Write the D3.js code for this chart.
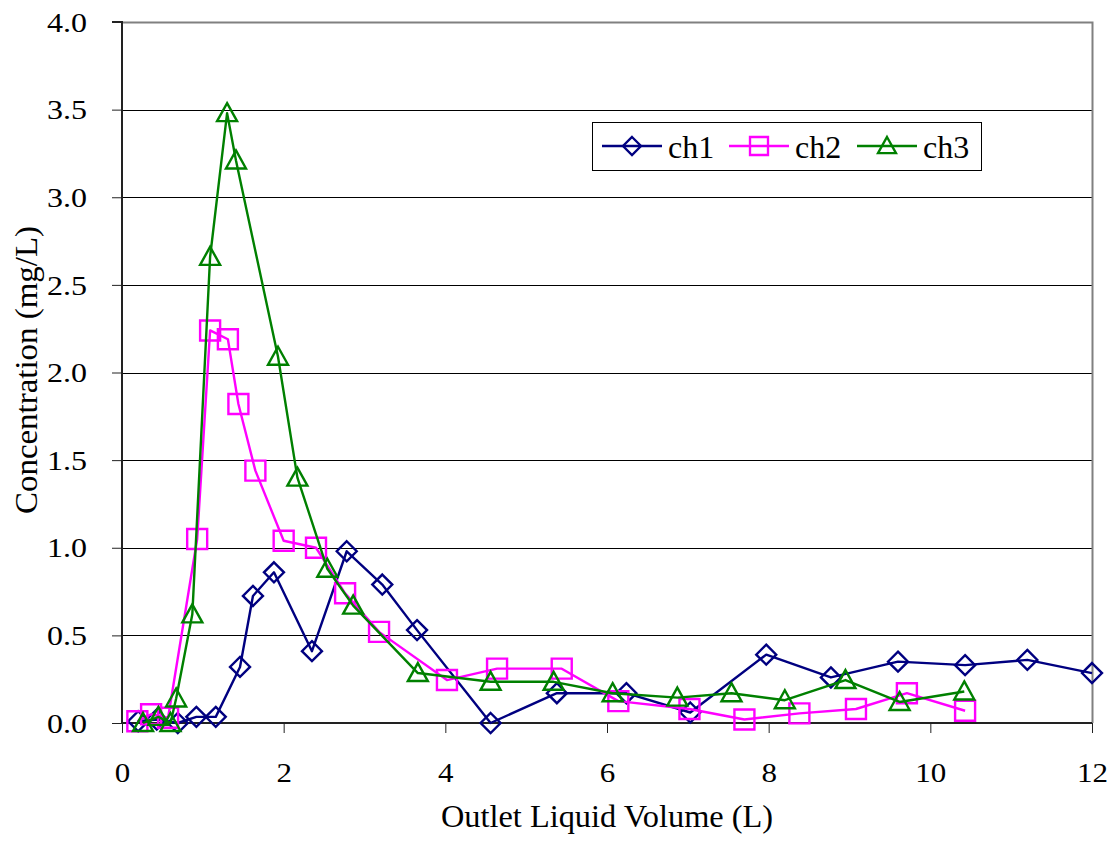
<!DOCTYPE html>
<html>
<head>
<meta charset="utf-8">
<script src="https://cdn.jsdelivr.net/npm/d3@7"></script>
<style>
  html, body { margin: 0; padding: 0; background: #fff; }
  svg { display: block; }
</style>
</head>
<body>
<svg id="chart" width="1114" height="848" font-family="Liberation Serif"></svg>
<script>
// Outlet volume (L) and concentration (mg/L) per channel
const ch1X = [0.2, 0.43, 0.69, 0.92, 1.16, 1.46, 1.62, 1.88, 2.35, 2.78, 3.22, 3.65, 4.56, 5.38, 6.24, 7.03, 7.97, 8.77, 9.6, 10.43, 11.2, 12.0];
const ch1Y = [0.01, 0.02, 0.0, 0.035, 0.035, 0.32, 0.725, 0.86, 0.41, 0.98, 0.79, 0.53, 0.0, 0.17, 0.17, 0.06, 0.39, 0.26, 0.35, 0.33, 0.36, 0.285];

const ch2X = [0.19, 0.36, 0.57, 0.93, 1.09, 1.31, 1.44, 1.65, 2.0, 2.4, 2.76, 3.18, 4.02, 4.64, 5.44, 6.14, 7.02, 7.7, 8.38, 9.08, 9.71, 10.43];
const ch2Y = [0.01, 0.05, 0.03, 1.05, 2.24, 2.19, 1.82, 1.44, 1.04, 1.0, 0.74, 0.52, 0.245, 0.31, 0.31, 0.125, 0.08, 0.02, 0.055, 0.08, 0.17, 0.07];

const ch3X = [0.26, 0.45, 0.6, 0.67, 0.87, 1.09, 1.3, 1.41, 1.93, 2.17, 2.54, 2.86, 3.66, 4.56, 5.34, 6.07, 6.87, 7.54, 8.2, 8.95, 9.62, 10.42];
const ch3Y = [0.0, 0.035, 0.0, 0.14, 0.62, 2.66, 3.48, 3.21, 2.09, 1.40, 0.88, 0.67, 0.285, 0.235, 0.235, 0.17, 0.145, 0.17, 0.13, 0.245, 0.12, 0.18];

const seriesNames = ["ch1", "ch2", "ch3"];
const xTicks = [0, 2, 4, 6, 8, 10, 12];
const yTicks = [0, 0.5, 1.0, 1.5, 2.0, 2.5, 3.0, 3.5, 4.0];
const xTitle = "Outlet Liquid Volume (L)";
const yTitle = "Concentration (mg/L)";

const FONT = "Liberation Serif";

const styles = [
  { color: "#000080", shape: "diamond" },
  { color: "#FF00FF", shape: "square" },
  { color: "#008000", shape: "triangle" }
];

const series = [
  { name: seriesNames[0], pts: ch1X.map((x, i) => [x, ch1Y[i]]), ...styles[0] },
  { name: seriesNames[1], pts: ch2X.map((x, i) => [x, ch2Y[i]]), ...styles[1] },
  { name: seriesNames[2], pts: ch3X.map((x, i) => [x, ch3Y[i]]), ...styles[2] }
];

const plot = { left: 122, right: 1092, top: 22, bottom: 723 };
const svg = d3.select("#chart");

const x = d3.scaleLinear().domain([0, 12]).range([plot.left, plot.right]);
const y = d3.scaleLinear().domain([0, 4]).range([plot.bottom, plot.top]);

// Horizontal gridlines
svg.append("g")
  .selectAll("line")
  .data(yTicks.filter(t => t > 0 && t < 4))
  .join("line")
  .attr("x1", plot.left).attr("x2", plot.right)
  .attr("y1", d => Math.round(y(d)) + 0.5).attr("y2", d => Math.round(y(d)) + 0.5)
  .attr("stroke", "#000").attr("stroke-width", 1);

// Plot frame: top and right edges
svg.append("path")
  .attr("d", `M${plot.left},${plot.top + 0.5}H${plot.right + 0.5}V${plot.bottom}`)
  .attr("fill", "none").attr("stroke", "#808080").attr("stroke-width", 2);

// Axes
const yAxis = d3.axisLeft(y).tickValues(yTicks).tickFormat(d3.format(".1f")).tickSize(10).tickPadding(25);
const xAxis = d3.axisBottom(x).tickValues(xTicks).tickFormat(d3.format("d")).tickSize(10);

const gy = svg.append("g").attr("transform", `translate(${plot.left},0)`).call(yAxis);
const gx = svg.append("g").attr("transform", `translate(0,${plot.bottom})`).call(xAxis);

[gx, gy].forEach(g => {
  g.attr("font-family", FONT).attr("font-size", 27);
  g.select(".domain").attr("stroke", "#222").attr("stroke-width", 2);
  g.selectAll(".tick line").attr("stroke", "#222").attr("stroke-width", 1);
  g.selectAll(".tick text")
    .attr("font-family", FONT)
    .attr("font-size", 27)
    .attr("fill", "#000")
    .attr("lengthAdjust", "spacingAndGlyphs");
});
gy.selectAll(".tick text").attr("dy", "0.34em").attr("textLength", 40);
gx.selectAll(".tick text")
  .attr("y", 59).attr("dy", 0)
  .attr("textLength", d => String(d).length * 15.5);
gy.select(".domain").attr("d", `M-10,${plot.top}H0V${plot.bottom}`);
gx.select(".domain").attr("d", `M${plot.left},0H${plot.right}`);

// Axis titles
svg.append("text")
  .attr("x", 607).attr("y", 827)
  .attr("text-anchor", "middle")
  .attr("font-family", FONT)
  .attr("font-size", 32)
  .attr("textLength", 332)
  .attr("lengthAdjust", "spacingAndGlyphs")
  .text(xTitle);

svg.append("text")
  .attr("transform", `translate(37,370) rotate(-90)`)
  .attr("text-anchor", "middle")
  .attr("font-family", FONT)
  .attr("font-size", 32)
  .attr("textLength", 288)
  .attr("lengthAdjust", "spacingAndGlyphs")
  .text(yTitle);

// Marker shapes
function markerPath(shape) {
  if (shape === "diamond") return "M0,-10L10,0L0,10L-10,0Z";
  if (shape === "square") return "M-10,-10H10V10H-10Z";
  return "M0,-10L10,8H-10Z";
}

const line = d3.line().x(d => x(d[0])).y(d => y(d[1]));

const gSeries = svg.append("g");
series.forEach(s => {
  const g = gSeries.append("g");
  g.append("path")
    .attr("d", line(s.pts))
    .attr("fill", "none")
    .attr("stroke", s.color)
    .attr("stroke-width", 2.4)
    .attr("stroke-linejoin", "round");
  g.selectAll("path.m")
    .data(s.pts)
    .join("path")
    .attr("class", "m")
    .attr("transform", d => `translate(${x(d[0])},${y(d[1])})`)
    .attr("d", markerPath(s.shape))
    .attr("fill", "none")
    .attr("stroke", s.color)
    .attr("stroke-width", 2.4);
});

// Legend
const legend = svg.append("g").attr("transform", "translate(592,122)");
legend.append("rect")
  .attr("x", 0.5).attr("y", 0.5).attr("width", 389).attr("height", 48)
  .attr("fill", "#fff").attr("stroke", "#000").attr("stroke-width", 1);

const itemX = [10, 137, 265];
series.forEach((s, i) => {
  const g = legend.append("g").attr("transform", `translate(${itemX[i]},24)`);
  g.append("line").attr("x1", 0).attr("x2", 60).attr("y1", 0).attr("y2", 0)
    .attr("stroke", s.color).attr("stroke-width", 2.4);
  g.append("path")
    .attr("transform", "translate(30,0) scale(0.9)")
    .attr("d", markerPath(s.shape))
    .attr("fill", "none").attr("stroke", s.color).attr("stroke-width", 2.6);
  g.append("text")
    .attr("x", 66).attr("y", 12)
    .attr("font-family", FONT)
    .attr("font-size", 32)
    .text(s.name);
});
</script>
</body>
</html>
